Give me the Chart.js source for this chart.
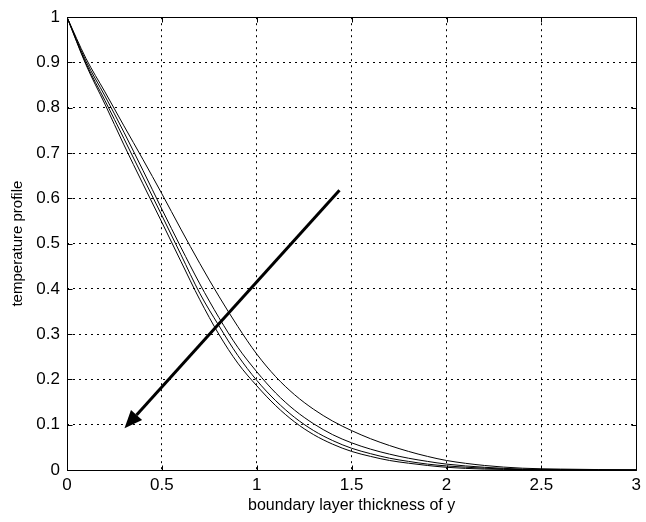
<!DOCTYPE html>
<html>
<head>
<meta charset="utf-8">
<script src="https://cdn.jsdelivr.net/npm/chart.js@4.4.1/dist/chart.umd.min.js"></script>
<style>
  html, body { margin: 0; padding: 0; background: #fff; }
  #wrap { width: 646px; height: 522px; position: relative; }
</style>
</head>
<body>
<div id="wrap"><canvas id="c"></canvas></div>
<script>
// boundary layer thickness of y (x values shared by all curves)
const xs = [0, 0.1, 0.2, 0.3, 0.4, 0.5, 0.6, 0.7, 0.8, 0.9, 1.0, 1.1, 1.2, 1.3, 1.4, 1.5, 1.6, 1.7, 1.8, 1.9, 2.0, 2.2, 2.4, 2.6, 2.8, 3.0];

// temperature profiles, from the upper curve to the lower one
const curve1 = [1, 0.909, 0.835, 0.760, 0.686, 0.610, 0.532, 0.456, 0.384, 0.317, 0.256, 0.206, 0.166, 0.134, 0.108, 0.087, 0.069, 0.054, 0.041, 0.030, 0.021, 0.010, 0.004, 0.002, 0.001, 0];
const curve2 = [1, 0.903, 0.826, 0.746, 0.662, 0.576, 0.492, 0.411, 0.337, 0.271, 0.217, 0.170, 0.132, 0.102, 0.078, 0.060, 0.046, 0.035, 0.026, 0.019, 0.013, 0.006, 0.002, 0.001, 0, 0];
const curve3 = [1, 0.898, 0.816, 0.732, 0.647, 0.562, 0.476, 0.390, 0.319, 0.253, 0.198, 0.153, 0.116, 0.087, 0.065, 0.048, 0.036, 0.026, 0.019, 0.013, 0.009, 0.004, 0.001, 0, 0, 0];
const curve4 = [1, 0.895, 0.808, 0.718, 0.632, 0.547, 0.461, 0.376, 0.300, 0.236, 0.186, 0.142, 0.106, 0.078, 0.057, 0.041, 0.030, 0.021, 0.015, 0.010, 0.006, 0.002, 0.001, 0, 0, 0];

// arrow (tail -> head), in data units
const arrowX = [1.436, 0.303];
const arrowY = [0.618, 0.092];

// tick labels
const xTickLabels = ['0', '0.5', '1', '1.5', '2', '2.5', '3'];
const yTickLabels = ['0', '0.1', '0.2', '0.3', '0.4', '0.5', '0.6', '0.7', '0.8', '0.9', '1'];

const FONT = '"Liberation Sans", Arial, sans-serif';

const curves = [curve1, curve2, curve3, curve4];
const datasets = curves.map((vals, i) => ({
    label: 'curve ' + (i + 1),
    data: xs.map((x, j) => ({ x: x, y: vals[j] })),
    borderColor: '#000',
    borderWidth: 1,
    pointRadius: 0,
    fill: false,
    cubicInterpolationMode: 'monotone'
}));

// box, inward ticks and the arrow (MATLAB look)
const matlabBox = {
    id: 'matlabBox',
    afterDatasetsDraw(chart) {
        const ctx = chart.ctx;
        const sx = chart.scales.x;
        const sy = chart.scales.y;
        const a = chart.chartArea;

        // arrow
        const x1 = sx.getPixelForValue(arrowX[0]);
        const y1 = sy.getPixelForValue(arrowY[0]);
        const x2 = sx.getPixelForValue(arrowX[1]);
        const y2 = sy.getPixelForValue(arrowY[1]);
        const ang = Math.atan2(y2 - y1, x2 - x1);
        const headLen = 18, headW = 7.5;
        const bx = x2 - headLen * Math.cos(ang);
        const by = y2 - headLen * Math.sin(ang);
        ctx.save();
        ctx.strokeStyle = '#000';
        ctx.fillStyle = '#000';
        ctx.lineWidth = 3;
        ctx.beginPath();
        ctx.moveTo(x1, y1);
        ctx.lineTo(bx, by);
        ctx.stroke();
        ctx.beginPath();
        ctx.moveTo(x2, y2);
        ctx.lineTo(bx + headW * Math.sin(ang), by - headW * Math.cos(ang));
        ctx.lineTo(bx - headW * Math.sin(ang), by + headW * Math.cos(ang));
        ctx.closePath();
        ctx.fill();
        ctx.restore();

        // box + ticks
        const L = Math.round(a.left) + 0.5, R = Math.round(a.right) + 0.5;
        const T = Math.round(a.top) + 0.5, B = Math.round(a.bottom) + 0.5;
        const tl = 5;
        ctx.save();
        ctx.strokeStyle = '#000';
        ctx.lineWidth = 1;
        ctx.beginPath();
        ctx.rect(L, T, R - L, B - T);
        sx.ticks.forEach(t => {
            const px = Math.round(sx.getPixelForValue(t.value)) + 0.5;
            ctx.moveTo(px, B); ctx.lineTo(px, B - tl);
            ctx.moveTo(px, T); ctx.lineTo(px, T + tl);
        });
        sy.ticks.forEach(t => {
            const py = Math.round(sy.getPixelForValue(t.value)) + 0.5;
            ctx.moveTo(L, py); ctx.lineTo(L + tl, py);
            ctx.moveTo(R, py); ctx.lineTo(R - tl, py);
        });
        ctx.stroke();
        ctx.restore();
    }
};

new Chart(document.getElementById('c'), {
    type: 'line',
    data: { datasets: datasets },
    options: {
        responsive: true,
        maintainAspectRatio: false,
        animation: false,
        events: [],
        layout: { padding: { top: 16, right: 5, left: 0, bottom: 0 } },
        plugins: {
            legend: { display: false },
            tooltip: { enabled: false }
        },
        scales: {
            x: {
                type: 'linear',
                min: 0,
                max: 3,
                afterFit(scale) { scale.height = 52; },
                ticks: {
                    stepSize: 0.5,
                    padding: 5,
                    maxRotation: 0,
                    color: '#000',
                    font: { family: FONT, size: 17 },
                    callback: (v, i) => xTickLabels[i]
                },
                grid: { color: '#000', lineWidth: 1, drawTicks: false },
                border: { display: false, dash: [2, 4] },
                title: {
                    display: true,
                    text: 'boundary layer thickness of y',
                    color: '#000',
                    font: { family: FONT, size: 16 },
                    padding: { top: 0, bottom: 7 }
                }
            },
            y: {
                type: 'linear',
                min: 0,
                max: 1,
                afterFit(scale) { scale.width = 67; },
                ticks: {
                    stepSize: 0.1,
                    padding: 7,
                    color: '#000',
                    font: { family: FONT, size: 17 },
                    callback: (v, i) => yTickLabels[i]
                },
                grid: { color: '#000', lineWidth: 1, drawTicks: false },
                border: { display: false, dash: [2, 4] },
                title: {
                    display: true,
                    text: 'temperature profile',
                    color: '#000',
                    font: { family: FONT, size: 15 },
                    padding: { top: 9, bottom: 0 }
                }
            }
        }
    },
    plugins: [matlabBox]
});
</script>
</body>
</html>
